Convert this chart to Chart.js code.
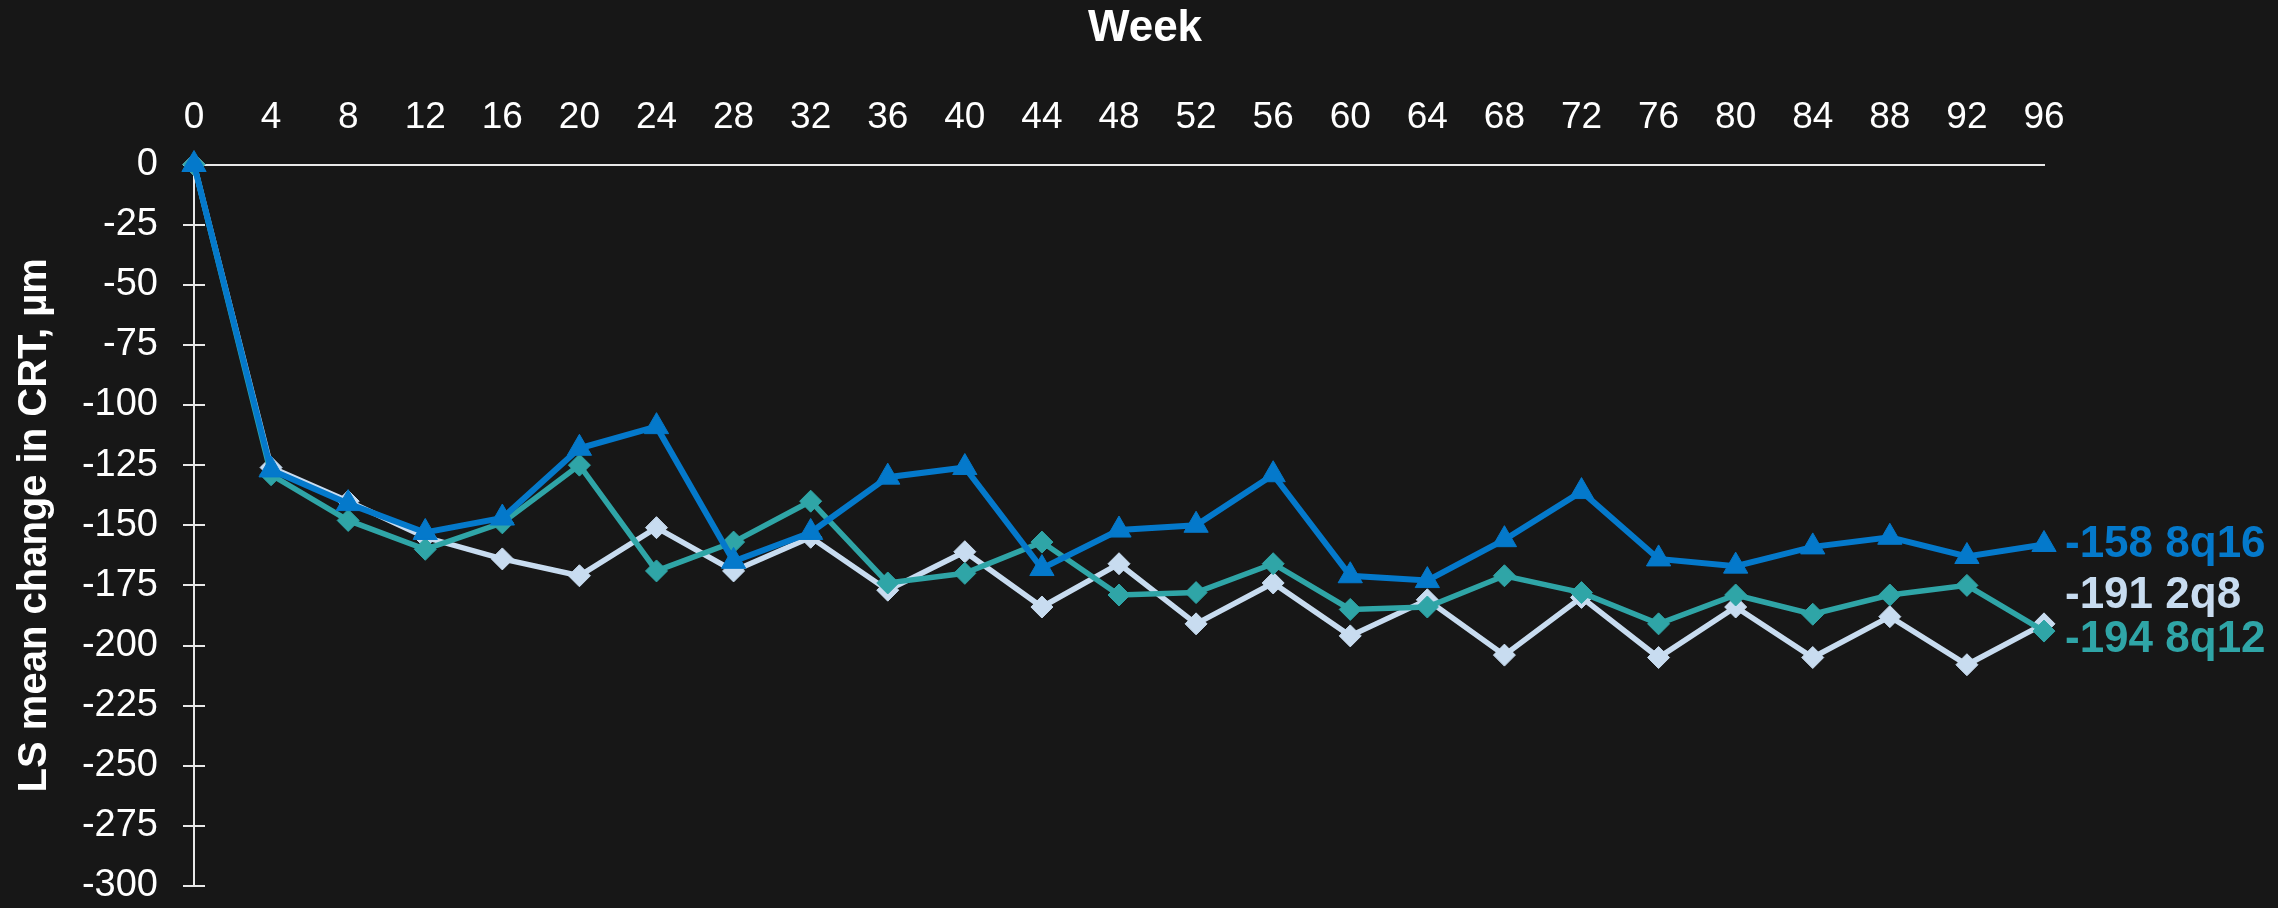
<!DOCTYPE html>
<html><head><meta charset="utf-8">
<script src="https://cdn.jsdelivr.net/npm/chart.js@4/dist/chart.umd.min.js"></script>
<style>html,body{margin:0;padding:0;background:#171717;overflow:hidden}#wrap{width:2278px;height:908px}</style>
</head><body><div id="wrap"><canvas id="c" width="2278" height="908"></canvas></div>
<script>
const weeks = ['0','4','8','12','16','20','24','28','32','36','40','44','48','52','56','60','64','68','72','76','80','84','88','92','96'];
const series8q16 = [0,-127,-141,-153,-147,-118,-109,-165,-153,-130,-126,-168,-152,-150,-129,-171,-173,-156,-136,-164,-167,-159,-155,-163,-158];
const series8q12 = [0,-129,-148,-160,-149,-125,-169,-157,-140,-174,-170,-157,-179,-178,-166,-185,-184,-171,-178,-191,-179,-187,-179,-175,-194];
const series2q8  = [0,-126,-140,-155,-164,-171,-151,-169,-155,-177,-161,-184,-166,-191,-174,-196,-181,-204,-180,-205,-184,-205,-188,-208,-191];
const endLabels = ['-158 8q16','-194 8q12','-191 2q8'];
const xTitle = 'Week';
const yTitle = 'LS mean change in CRT, µm';

const BLUE = '#0479CB', TEAL = '#2FA5A7', LIGHT = '#C8DCF0', AX = '#E8E8E8';
const FAM = '"Liberation Sans", Arial, sans-serif';

const innerTicks = {
  id: 'innerTicks',
  beforeDatasetsDraw(chart) {
    const y = chart.scales.y, ctx = chart.ctx, left = chart.chartArea.left;
    ctx.save(); ctx.strokeStyle = AX; ctx.lineWidth = 2;
    y.ticks.forEach(t => {
      const py = Math.round(y.getPixelForValue(t.value));
      ctx.beginPath(); ctx.moveTo(left, py); ctx.lineTo(left + 11, py); ctx.stroke();
    });
    ctx.restore();
  }
};
const topTitle = {
  id: 'topTitle',
  afterDraw(chart) {
    const ctx = chart.ctx, a = chart.chartArea;
    ctx.save();
    ctx.font = 'bold 44px ' + FAM; ctx.fillStyle = '#FFFFFF';
    ctx.textAlign = 'center'; ctx.textBaseline = 'middle';
    ctx.fillText(xTitle, (a.left + a.right) / 2 + 26, 29);
    ctx.restore();
  }
};
const endLabelPlugin = {
  id: 'endLabels',
  afterDraw(chart) {
    const ctx = chart.ctx, xs = chart.scales.x, ys = chart.scales.y;
    const offsets = [0, 9, -28];
    ctx.save();
    ctx.font = 'bold 44px ' + FAM; ctx.textBaseline = 'middle'; ctx.textAlign = 'left';
    chart.data.datasets.forEach((ds, i) => {
      const last = ds.data.length - 1;
      const px = xs.getPixelForValue(last) + 21;
      const py = ys.getPixelForValue(ds.data[last]) + offsets[i];
      ctx.fillStyle = ds.borderColor;
      ctx.fillText(endLabels[i], px, py);
    });
    ctx.restore();
  }
};

function ds(label, data, color, style, r, bw) {
  return {label, data, borderColor: color, backgroundColor: color, borderWidth: bw,
    pointStyle: style, pointRadius: r, pointBorderWidth: 1, pointBackgroundColor: color,
    pointBorderColor: color, tension: 0, clip: false};
}

new Chart(document.getElementById('c'), {
  type: 'line',
  data: {labels: weeks, datasets: [
    ds('8q16', series8q16, BLUE, 'triangle', 14, 6),
    ds('8q12', series8q12, TEAL, 'rectRot', 11, 5.5),
    ds('2q8', series2q8, LIGHT, 'rectRot', 11, 5.5)
  ]},
  options: {
    responsive: false, animation: false, devicePixelRatio: 1,
    layout: {padding: {left: 0, right: 234, top: 94.5, bottom: 22}},
    plugins: {legend: {display: false}, tooltip: {enabled: false}, title: {display: false}},
    scales: {
      x: {position: 'top', grid: {display: false, drawTicks: false}, border: {display: true, color: AX, width: 2},
          ticks: {color: '#FFFFFF', font: {size: 37, family: FAM}, padding: 25, maxRotation: 0, autoSkip: false},
          afterFit(s) { s.height = 70; s.paddingLeft = 0; s.paddingRight = 0; }},
      y: {min: -300, max: 0,
          ticks: {stepSize: 25, color: '#FFFFFF', font: {size: 38, family: FAM}, padding: 25},
          grid: {drawOnChartArea: false, drawTicks: true, tickLength: 11, color: AX, lineWidth: 2},
          border: {display: true, color: AX, width: 2},
          title: {display: true, text: yTitle, color: '#FFFFFF', font: {size: 40, weight: 'bold', family: FAM}, padding: {top: 11, bottom: 0}},
          afterFit(s) { s.width = 194; s.paddingTop = 0; s.paddingBottom = 0; }}
    }
  },
  plugins: [innerTicks, topTitle, endLabelPlugin]
});
</script></body></html>
